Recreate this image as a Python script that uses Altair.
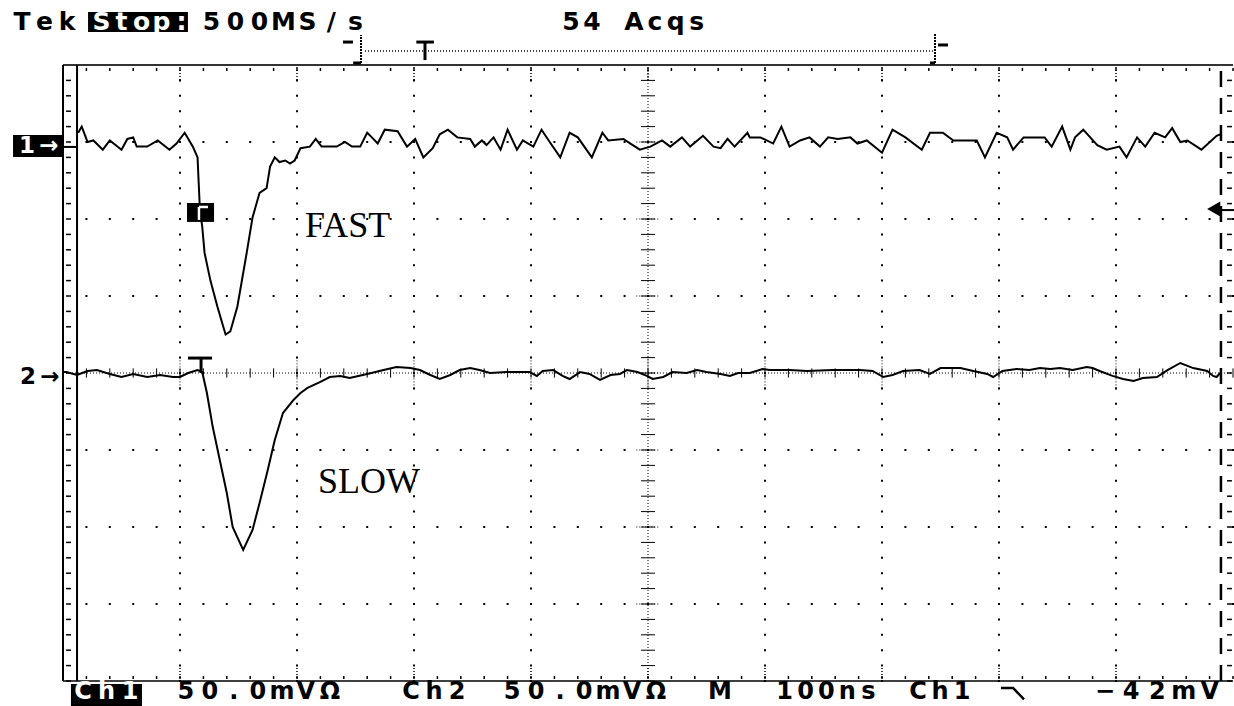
import altair as alt
import pandas as pd
import numpy as np

# ---------------- data ----------------
# time in ns from the left graticule edge, voltage in mV from the screen centre
ch1_t = [13, 16, 21, 26, 34, 40, 50, 55, 60, 63,
         72, 81, 91, 97, 104, 111, 115, 116, 117, 119,
         121, 126, 132, 137, 139, 143, 149, 157, 162, 168,
         174, 177, 181, 185, 190, 194, 198, 203, 211, 216,
         221, 226, 234, 241, 247, 254, 260, 264, 269, 275,
         286, 294, 301, 308, 316, 322, 329, 337, 348, 352,
         358, 362, 368, 374, 380, 388, 393, 402, 409, 416,
         425, 433, 440, 452, 461, 466, 479, 485, 493, 502,
         512, 519, 529, 536, 547, 556, 562, 568, 574, 585,
         587, 596, 607, 614, 621, 630, 638, 647, 654, 662,
         673, 679, 687, 700, 709, 720, 734, 741, 752, 761,
         781, 788, 798, 807, 812, 821, 835, 839, 845, 854,
         861, 865, 872, 884, 892, 903, 909, 918, 925, 933,
         942, 948, 955, 961, 973, 986, 989]
ch1_mv = [156, 160, 150, 151, 145, 151, 145, 152, 153, 147,
          147, 151, 145, 149, 156, 147, 140, 123, 106, 95,
          78, 60, 43, 30, 25, 27, 43, 78, 101, 117,
          120, 134, 140, 137, 138, 136, 138, 146, 147, 152,
          147, 147, 147, 150, 147, 147, 156, 153, 149, 158,
          157, 147, 152, 140, 146, 155, 158, 153, 152, 147,
          151, 148, 153, 145, 158, 145, 151, 147, 158, 150,
          140, 156, 153, 140, 156, 151, 152, 149, 145, 147,
          151, 147, 153, 147, 154, 147, 146, 152, 147, 156,
          153, 153, 149, 160, 147, 151, 153, 147, 153, 152,
          153, 149, 151, 143, 158, 153, 145, 156, 156, 151,
          151, 140, 156, 153, 145, 153, 153, 153, 147, 160,
          145, 153, 158, 148, 145, 147, 140, 153, 147, 156,
          153, 159, 150, 151, 145, 154, 155]

ch2_t = [0, 3, 12, 21, 29, 40, 50, 60, 72, 83,
         94, 100, 107, 115, 119, 123, 128, 134, 140, 145,
         154, 162, 168, 175, 181, 188, 197, 203, 209, 220,
         228, 237, 245, 260, 274, 285, 297, 305, 314, 322,
         331, 339, 348, 356, 365, 379, 391, 399, 405, 410,
         419, 427, 433, 442, 450, 459, 468, 476, 482, 491,
         499, 504, 513, 521, 533, 542, 550, 562, 570, 577,
         587, 598, 604, 621, 636, 658, 681, 692, 701, 709,
         718, 732, 741, 750, 758, 767, 778, 790, 795, 803,
         815, 826, 835, 844, 852, 863, 875, 880, 886, 897,
         906, 915, 923, 935, 944, 955, 966, 978, 983, 986,
         989]
ch2_mv = [0.6, 0.6, -1.3, 1.3, 1.9, -0.6, -2.6, -0.6, -2.6, -1.3,
          -2.6, -2.6, 0.0, 1.9, 0.6, -13.0, -35.1, -56.5, -77.9, -100.0,
          -114.9, -101.9, -84.4, -63.0, -43.5, -26.0, -17.5, -13.0, -9.7, -5.8,
          -2.6, -1.9, -3.2, -0.6, 1.9, 3.9, 3.2, 1.9, -1.3, -3.9,
          -1.3, 1.9, 3.2, 1.9, 0.0, 0.6, 0.6, 0.6, -1.9, 1.3,
          1.9, -1.9, -3.9, 0.6, -0.6, -4.5, -1.3, -0.6, 1.9, 0.6,
          -1.9, -3.9, -2.6, 0.6, 0.0, 1.9, 0.6, -0.6, -1.9, 0.0,
          0.0, 2.6, 1.9, 1.9, 1.3, 1.9, 1.9, 1.3, -2.6, -1.3,
          1.3, 1.9, -0.6, 3.2, 3.2, 3.2, 1.3, -0.6, -2.6, 1.3,
          2.6, 1.9, 3.2, 2.6, 3.2, 1.9, 3.9, 3.2, 1.3, -1.9,
          -3.9, -5.2, -3.2, -2.6, 1.9, 6.5, 3.2, 1.3, -1.9, -2.6,
          0.0]

# scope settings
time_per_div = 100   # ns / div
volts_per_div = 50   # mV / div
n_hdiv = 10
n_vdiv = 8
ch1_ref_mv = 146.8
ch2_ref_mv = -1.3

header_texts = ["Tek", "Stop:", "500MS/s", "54 Acqs"]
footer_texts = ["Ch1", "50.0mVΩ", "Ch2", "50.0mVΩ", "M", "100ns", "Ch1", "−42mV"]
trace_names = ["FAST", "SLOW"]

# ---------------- chart ----------------
T_MAX = time_per_div * n_hdiv
V_MAX = volts_per_div * n_vdiv / 2
W, H = 1170, 616

xs = alt.Scale(domain=[0, T_MAX], nice=False, zero=False)
ys = alt.Scale(domain=[-V_MAX, V_MAX], nice=False, zero=False)


def X(f):
    return alt.X(f, type="quantitative", scale=xs, axis=None)


def Y(f):
    return alt.Y(f, type="quantitative", scale=ys, axis=None)


def rules(rows, **kw):
    df = pd.DataFrame(rows, columns=["t", "t2", "v", "v2"])
    return alt.Chart(df).mark_rule(**kw).encode(
        x=X("t"), x2=alt.X2("t2"), y=Y("v"), y2=alt.Y2("v2"))


def rect(t, t2, v, v2, color="black"):
    df = pd.DataFrame([{"t": t, "t2": t2, "v": v, "v2": v2}])
    return alt.Chart(df).mark_rect(color=color, opacity=1).encode(
        x=X("t"), x2=alt.X2("t2"), y=Y("v"), y2=alt.Y2("v2"))


def glyph_rows(text, t0, pitch, v):
    return [{"t": t0 + i * pitch, "v": v, "c": ch}
            for i, ch in enumerate(text) if ch != " "]


def glyphs(rows, color="black", size=25, weight="bold", font="DejaVu Sans"):
    return alt.Chart(pd.DataFrame(rows)).mark_text(
        font=font, fontSize=size, fontWeight=weight, color=color,
        align="center", baseline="alphabetic").encode(
        x=X("t"), y=Y("v"), text="c:N")


minor_t = np.arange(0, T_MAX + 0.01, time_per_div / 5)
minor_v = np.arange(-V_MAX, V_MAX + 0.01, volts_per_div / 5)
major_t = np.arange(time_per_div, T_MAX - 1, time_per_div)
major_v = np.arange(-V_MAX + volts_per_div, V_MAX - 1, volts_per_div)

# graticule dots
dots = [{"t": t, "v": v} for t in major_t if t != T_MAX / 2 for v in minor_v]
dots += [{"t": t, "v": v} for v in major_v if v != 0 for t in minor_t]
grid = alt.Chart(pd.DataFrame(dots)).mark_square(size=4, color="black", opacity=1).encode(
    x=X("t"), y=Y("v"))

layers = [grid]

# centre cross
layers.append(rules([(0, T_MAX, 0, 0), (T_MAX / 2, T_MAX / 2, -V_MAX, V_MAX)],
                    strokeDash=[1, 2], strokeWidth=1, color="black"))
layers.append(rules([(t, t, -3, 3) for t in minor_t], strokeWidth=1, color="black"))
layers.append(rules([(T_MAX / 2 - 6, T_MAX / 2 + 6, v, v) for v in minor_v],
                    strokeWidth=1, color="black"))
layers.append(rules([(t, t, -volts_per_div / 5, volts_per_div / 5) for t in major_t],
                    strokeDash=[1, 2], strokeWidth=1, color="black"))
layers.append(rules([(T_MAX / 2 - 10, T_MAX / 2 + 10, v, v) for v in major_v],
                    strokeDash=[1, 2], strokeWidth=1, color="black"))

# edge ticks
edge = [(t, t, 196.1, 198.1) for t in minor_t]
edge += [(t, t, -198.7, -196.8) for t in minor_t]
edge += [(2.6, 6.8, v, v) for v in minor_v]
edge += [(994.9, 999.1, v, v) for v in minor_v]
layers.append(rules(edge, strokeWidth=1.5, color="black"))
layers.append(rules([(t, t, 190.3, 199.4) for t in major_t] +
                    [(t, t, -200, -190.3) for t in major_t],
                    strokeDash=[1, 2], strokeWidth=1.5, color="black"))

# frame
layers.append(rules([(0, T_MAX, V_MAX, V_MAX)], strokeWidth=2, color="#333333"))
layers.append(rules([(0, T_MAX, -V_MAX, -V_MAX)], strokeWidth=1.5, color="black"))
layers.append(rules([(0, 0, -V_MAX, V_MAX), (12, 12, -V_MAX, V_MAX)],
                    strokeWidth=2, color="black"))
layers.append(rules([(989.7, 989.7, -V_MAX, V_MAX)], strokeWidth=2.5,
                    strokeDash=[16, 11], color="black"))

# traces
traces = pd.concat([
    pd.DataFrame({"t": ch1_t, "v": ch1_mv, "ch": "CH1"}),
    pd.DataFrame({"t": ch2_t, "v": ch2_mv, "ch": "CH2"}),
])
layers.append(alt.Chart(traces).mark_line(color="black", strokeWidth=2).encode(
    x=X("t"), y=Y("v"), detail="ch:N", order="t:Q"))

# channel markers
layers.append(rect(-42.7, 0, 140.3, 154.5))
layers.append(glyphs([{"t": -30.8, "v": 142.6, "c": "1"}, {"t": -12.0, "v": 142.6, "c": "→"}],
                     color="white", size=23))
layers.append(rules([(0, 12, ch1_ref_mv, ch1_ref_mv)], strokeWidth=2, color="black"))
layers.append(glyphs([{"t": -29.9, "v": -7.1, "c": "2"}, {"t": -11.1, "v": -7.1, "c": "→"}],
                     size=23))

# trigger marker on ch1
layers.append(rect(106.0, 129.1, 98.1, 110.4))
layers.append(rules([(116.2, 116.2, 99.4, 107.8), (116.2, 123.9, 107.8, 107.8)],
                    strokeWidth=2.5, color="white"))
# T marker on ch2
layers.append(rules([(106.8, 127.4, 9.7, 9.7), (118.0, 118.0, 0, 9.7)],
                    strokeWidth=3, color="black"))
# trigger level arrow at right
layers.append(alt.Chart(pd.DataFrame([{"t": 983.5, "v": 106.5}])).mark_point(
    shape="triangle-left", filled=True, size=230, color="black", opacity=1).encode(
    x=X("t"), y=Y("v")))
layers.append(rules([(990.6, 1000.9, 105.8, 105.8)], strokeWidth=2, color="black"))

# record / trigger position bar at the top
bar = [(258.1, 743.6, 209.1, 209.1)]
layers.append(rules(bar, strokeDash=[1, 2], strokeWidth=1.5, color="black"))
layers.append(rules([(254.7, 254.7, 201.3, 219.5), (745.3, 745.3, 201.3, 220.8)],
                    strokeDash=[2, 1], strokeWidth=2, color="black"))
layers.append(rules([(239.3, 247.9, 214.9, 214.9), (747.9, 756.4, 213.0, 213.0),
                     (248.0, 254.7, 201.3, 201.3), (741.0, 745.3, 201.3, 201.3),
                     (302.0, 317.0, 214.9, 214.9), (309.4, 309.4, 203.2, 214.9)],
                    strokeWidth=3, color="black"))

# header
hb = 222.7
layers.append(glyphs(glyph_rows(header_texts[0], -35.0, 19.2, hb)))
layers.append(rect(21.4, 106.8, 221.4, 234.4))
layers.append(glyphs(glyph_rows(header_texts[1], 32.9, 17.1, hb), color="white"))
layers.append(glyphs(glyph_rows(header_texts[2], 126.9, 20.5, hb)))
layers.append(glyphs(glyph_rows(header_texts[3], 434.2, 17.9, hb)))

# footer
layers.append(rect(6.8, 67.5, -216.2, -201.9))
fb = -212.0
fs = 24
layers.append(glyphs(glyph_rows(footer_texts[0], 17.1, 20.1, fb), color="white", size=fs))
foot = []
foot += glyph_rows(footer_texts[1], 105.1, 20.5, fb)
foot += glyph_rows(footer_texts[2], 297.4, 19.7, fb)
foot += glyph_rows(footer_texts[3], 383.8, 20.5, fb)
foot += glyph_rows(footer_texts[4], 561.5, 0, fb)
foot += glyph_rows(footer_texts[5], 616.7, 17.9, fb)
foot += glyph_rows(footer_texts[6], 730.8, 18.8, fb)
foot += glyph_rows(footer_texts[7], 890.6, 22.4, fb)
layers.append(glyphs(foot, size=fs))
# falling slope symbol
slope = pd.DataFrame({"t": [801.7, 812.0, 821.4], "v": [-204.5, -204.5, -212.0]})
layers.append(alt.Chart(slope).mark_line(color="black", strokeWidth=2.5).encode(
    x=X("t"), y=Y("v"), order="t:Q"))

# trace labels
lab = pd.DataFrame([{"t": 206.8, "v": 88.3, "c": trace_names[0]},
                    {"t": 218.0, "v": -77.9, "c": trace_names[1]}])
layers.append(alt.Chart(lab).mark_text(font="Liberation Serif", fontSize=36,
                                       color="black", align="left",
                                       baseline="alphabetic").encode(
    x=X("t"), y=Y("v"), text="c:N"))

chart = alt.layer(*layers).properties(
    width=W, height=H,
    autosize=alt.AutoSizeParams(type="none"),
    padding={"left": 63, "top": 65, "right": 1, "bottom": 25},
    background="white",
).configure_view(stroke=None)

chart.save("out.html", embed_options={"renderer": "svg", "actions": False})
